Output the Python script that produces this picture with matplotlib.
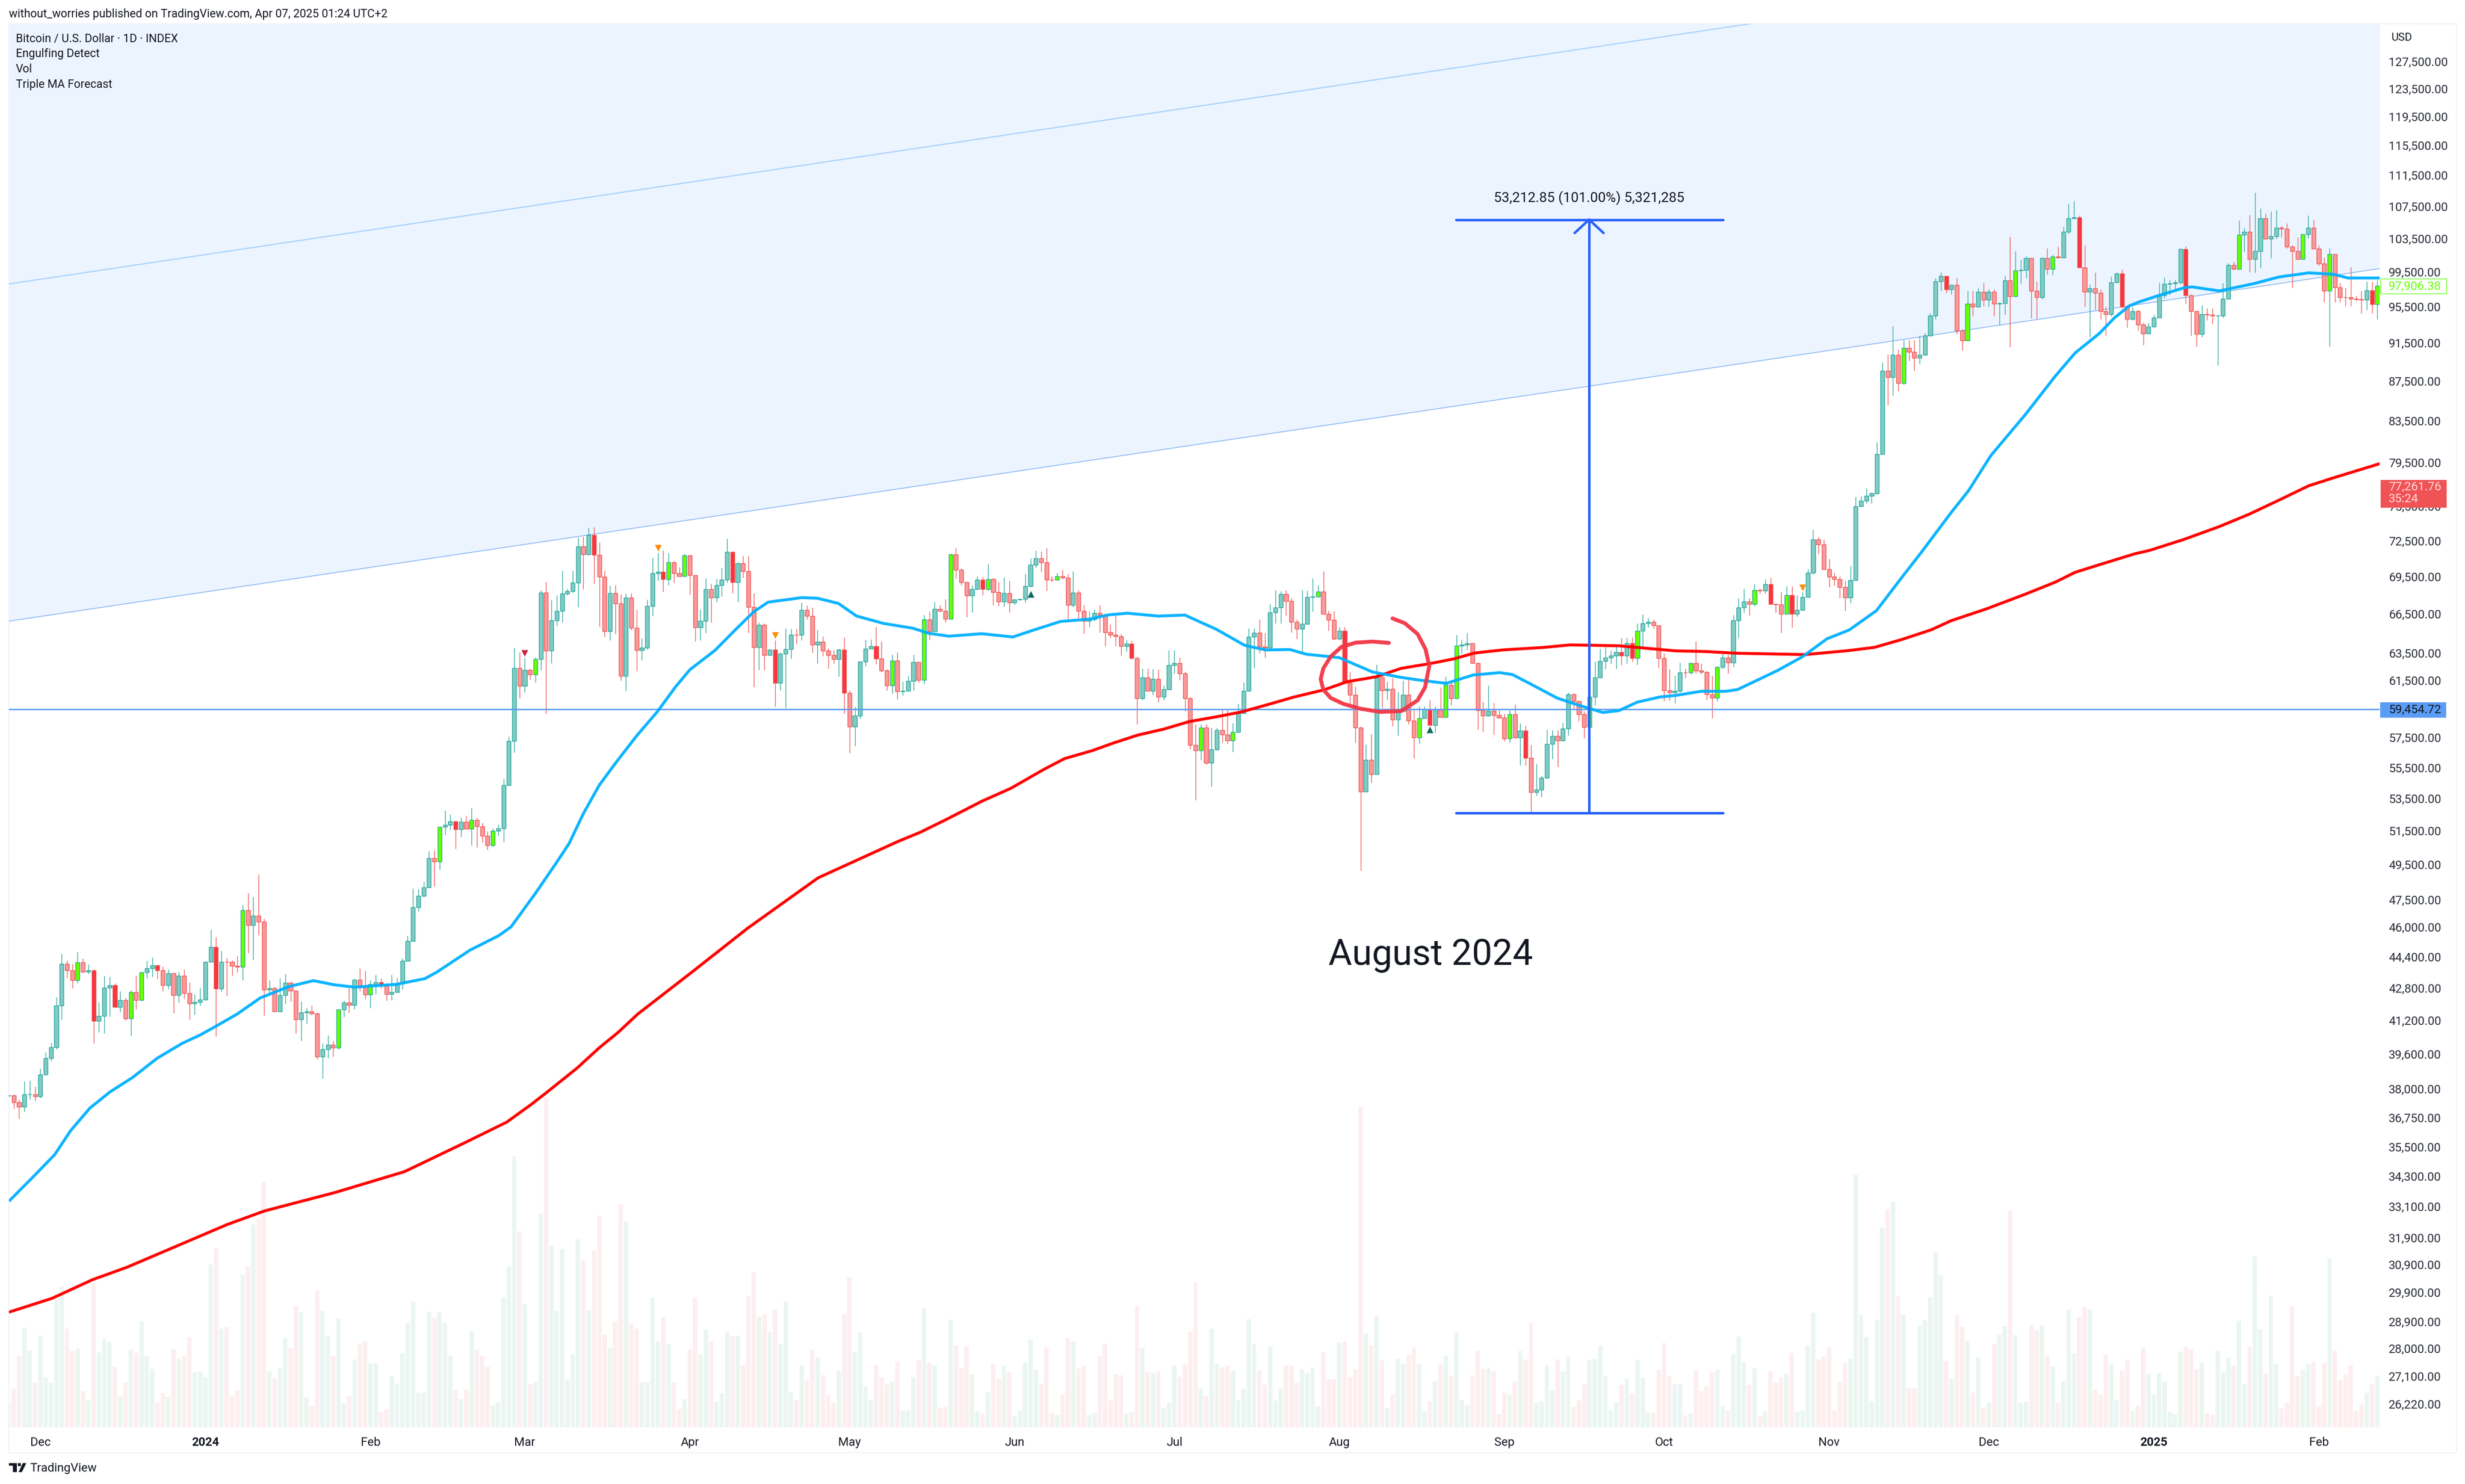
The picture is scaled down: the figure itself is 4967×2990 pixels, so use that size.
import numpy as np
import matplotlib
matplotlib.use("Agg")
import matplotlib.pyplot as plt
from matplotlib.patches import Rectangle, Polygon, Circle

W, H = 4967, 2990
plt.rcParams['font.family'] = ['Roboto', 'DejaVu Sans']

# ---------- daily candles (first entry is the partly hidden candle before the first full one) ----------
first_open = 37690
closes = [37720,
 37410,37220,37760,37770,37670,38660,39410,39930,41930,44030,
 43720,43210,44110,43640,43720,41190,41415,42830,42950,41860,
 42190,41300,42600,42210,43610,43810,43960,43700,42950,43560,
 42460,43430,42540,42040,42100,42220,44140,44920,42780,44140,
 44140,43930,43880,46910,46090,46620,46300,42730,42790,41650,
 42440,43080,42680,41240,41590,41640,41540,39490,39820,40040,
 39890,41740,42070,41960,43230,42870,42470,43000,43100,42920,
 42490,42610,43030,44200,45250,47080,47710,48190,49870,49670,
 51750,51880,52090,51590,52050,51630,52180,51780,51200,50660,
 51510,51660,54370,57250,62400,61100,62260,61930,63080,68200,
 63690,66000,66760,68130,68320,69010,72030,71330,73000,71300,
 69480,65160,68180,67350,61830,67800,65420,63730,63920,67120,
 69780,69900,69280,70680,69790,69540,71240,69600,65450,65950,
 68500,67800,68800,69250,71570,69030,70580,69950,67040,63950,
 65670,63350,63770,61320,63460,63790,64880,64880,66840,66350,
 64130,64350,63690,63350,63050,63770,60590,58250,59000,62870,
 63860,64030,63100,62230,61140,62960,60710,60740,61460,62860,
 61540,66090,65160,66900,66750,66110,71330,70080,69030,67980,
 68500,69230,68480,69300,68240,67500,68180,67430,67650,67670,
 68720,70490,71030,70680,69250,69230,69530,69410,67220,68200,
 66750,65950,66100,66570,66420,65080,64900,64800,64030,64230,
 63130,60220,61730,60750,61590,60310,60850,62630,62770,62020,
 60200,56990,56620,58190,55810,56700,58020,57700,57300,57880,
 59170,60750,64760,65030,64000,63910,66640,67000,68100,67520,
 65900,65350,65720,67860,67880,68300,66500,66050,64600,65190,
 61320,60460,58160,53960,56000,55050,61700,60800,60880,58730,
 59300,60470,58640,57490,58830,59440,58340,59410,58900,61160,
 60220,64050,64130,64270,62780,59370,58990,59360,59020,58860,
 57430,59100,57490,57980,56150,53910,54090,54850,57050,57600,
 57300,58100,60510,60010,59110,58210,60310,61730,62920,63190,
 63330,63570,63330,64260,63130,65200,65790,65880,65640,63150,
 60770,60640,60730,62070,62070,62770,62210,62130,60510,60250,
 62470,63190,62800,66000,67000,67500,67300,68400,68380,68900,
 67300,67250,66500,68000,66500,66830,67850,69820,72600,72200,
 70100,69500,69270,68650,67800,69200,75500,76000,76440,76650,
 80290,88570,87900,90230,87300,91000,90570,89940,90230,92340,
 94500,98380,99010,97500,98000,92880,91800,95860,95540,97200,
 96310,97180,95840,95880,98500,96700,99700,99760,101130,97300,
 96600,101130,99880,101300,101200,104300,106000,106100,100000,97200,
 97600,97100,95000,94700,98300,99300,95500,94100,95000,93550,
 92550,93300,94300,96800,98100,98150,98300,102200,96800,95000,
 92500,94700,94600,94500,94530,96400,100300,99880,103950,104350,
 101000,102000,106000,103500,103800,104800,104700,102500,102000,101000,
 104000,104800,102300,100500,97300,101600,97700,96600,96600,96400,
 96350,96300,97400,95800,97906]

highs = [37770,
 37770,37540,38350,38390,38110,38940,39680,40140,42360,44570,
 44220,44030,44670,44330,44010,43760,42110,43420,43390,43050,
 42650,42320,42690,43420,43600,44200,44390,43990,43910,43760,
 43570,43640,43760,43100,42510,42820,44160,45860,45460,44730,
 44350,44220,44450,47220,47870,47650,48920,46460,43200,42880,
 43300,43540,43120,42680,42120,41820,41940,41600,40100,40490,
 40230,41750,42170,42790,43270,43810,43680,43190,43470,43310,
 43060,43470,43320,44330,45530,48140,48110,48520,50280,50340,
 51770,52770,52520,52110,52340,52430,52930,52310,52000,51480,
 51650,51900,54790,57550,63930,63570,63130,62360,63210,68420,
 69090,67600,68000,69970,68540,69990,72790,72880,73620,73660,
 72350,69990,68780,68820,68090,68130,68150,66880,64650,67650,
 71070,71490,71680,71490,70820,70260,71370,71260,69620,66850,
 69360,68910,69320,70220,72690,71590,70720,71220,71220,68150,
 65840,65760,63800,64480,63560,65400,65350,65370,67400,67170,
 67000,65270,64780,63890,63720,63840,64700,60800,59620,62870,
 64530,64550,65490,64390,62330,63380,63570,61440,61830,63380,
 62870,66450,66720,67440,67220,67700,71410,71900,70170,69090,
 68820,69520,69490,70540,69430,69090,69470,69180,67700,67700,
 69730,71000,71680,71590,71880,69520,69800,70080,69730,69950,
 68420,67220,66720,66870,67230,66530,65680,66400,64960,64500,
 64460,63250,62380,62380,62320,62290,61130,63740,63740,63160,
 62150,60310,58400,58400,58400,58160,58160,59430,59460,58480,
 59830,61370,65400,65400,66070,65040,67290,68420,68320,68420,
 67750,66070,68420,68380,69380,68800,69960,66800,66740,65520,
 65520,62100,61080,58240,57030,57750,62670,61850,61420,61680,
 60680,61510,61540,59470,59640,59640,60110,59640,60990,61770,
 61420,64900,64500,65040,64240,62800,59980,61130,59890,59380,
 59140,59380,59810,58480,58320,57000,55760,54980,58030,58000,
 58000,58530,60650,60610,60060,59300,60730,62890,63860,63950,
 63680,64130,64680,64680,64720,65790,66470,66210,66100,65600,
 63510,62320,61850,62800,62380,62800,64410,62720,62200,61850,
 62550,63680,63410,66430,67770,68510,67770,68900,68510,69290,
 69420,67310,68250,68720,68720,68010,68250,70130,73480,72840,
 72620,70990,69820,69550,69160,70400,76340,76400,77110,76770,
 81400,89470,90320,93370,90820,91840,91840,91840,92340,92590,
 94800,98780,99510,98960,98040,98780,93040,97310,97310,97680,
 98230,97500,97500,96030,99070,103750,101960,100990,101370,101180,
 98410,101260,102330,101560,102500,104950,107820,108180,106350,102680,
 98040,99430,97500,95510,99000,99430,99770,95680,95510,95170,
 93720,93720,94620,98230,98850,98590,98590,102330,102600,96940,
 95000,95680,95340,95340,94620,98230,100560,100720,105750,104800,
 106440,109260,107230,106630,106830,107030,105050,105360,102680,103670,
 103670,106350,105820,102680,101180,102330,101560,98230,97680,100070,
 96740,97310,98410,98410,98590]

lows = [37650,
 37120,36700,37000,37550,37470,37600,38630,39270,39840,41240,
 43320,42810,43060,43570,43520,40100,40620,40570,41400,41840,
 41620,41210,40460,41770,42170,43300,43390,43280,42650,42740,
 41570,42080,42270,41260,41500,41940,42170,44140,40440,42630,
 42400,43420,43600,43190,44620,44250,45560,41450,42560,41630,
 41630,42010,42140,40590,40230,41050,41470,39360,38480,39420,
 39480,39820,41360,41600,41770,42650,42240,41820,42510,42790,
 42180,42200,42600,42740,44200,46850,46850,47650,48250,48260,
 49230,51280,51560,50450,51140,51650,50660,50540,50840,50370,
 50570,51210,50850,54380,56510,60210,60640,61560,61370,62250,
 59150,62770,65570,65840,68000,68190,67050,68490,71290,68910,
 65490,64730,64480,64990,61500,60750,65240,62200,63000,63800,
 66360,69180,68280,68820,69000,69520,69520,68040,64410,64480,
 65060,65840,67440,67900,69000,68150,67460,69430,65060,61020,
 62270,62250,63380,59620,60800,59560,63100,64220,64480,66100,
 63540,62720,63270,62380,62720,61790,59120,56480,56920,58800,
 62540,63860,62700,62130,60800,60580,60160,60420,60720,60800,
 61370,61250,64530,65150,66720,65840,66090,69360,68820,66290,
 66630,68440,68000,68370,67200,67140,67080,66630,67270,67600,
 67400,68640,70220,69890,68370,69090,69180,69270,66010,67050,
 66190,64990,65490,65970,65090,64040,64680,64040,63340,63620,
 63080,58400,60110,60720,60480,59950,60110,60820,62020,61540,
 59300,56740,53400,55990,55720,54280,56630,57160,57080,56530,
 57830,59140,60720,62400,63510,63160,63910,65790,65790,66400,
 65090,64590,63560,65710,66710,67830,66670,65210,64500,64500,
 61330,59810,57160,49150,53960,54520,55050,59550,60110,58280,
 57620,59300,58400,56100,57110,58820,58340,57830,58890,58890,
 59720,60310,63510,63780,62720,58030,57870,58980,57700,58820,
 57270,57160,57430,55640,55640,52550,53710,53610,54790,56070,
 55560,57270,57620,59470,58630,57470,58160,59720,61680,62340,
 62720,62380,62630,62720,62890,62670,64040,65450,65400,62400,
 60030,60060,59860,60650,61680,61950,62020,61950,60110,58820,
 59990,62380,62020,62470,64670,66630,66380,67130,68140,68140,
 67260,66630,65060,66500,65470,66330,66800,67850,69710,71390,
 70130,68640,68770,67770,66750,67380,69240,75500,75780,75780,
 76560,80240,85060,86020,86500,87150,89640,88560,89300,90320,
 92240,94100,97310,97090,96940,92510,90730,91770,94450,95440,
 95580,95510,94450,93460,94620,91110,96740,98200,98780,94210,
 94170,96390,99230,99140,101180,101180,104060,105970,99960,95510,
 92170,95170,94100,92340,94450,98410,95340,93200,94030,92860,
 91330,92510,93200,94280,96490,96850,97360,98100,95860,92340,
 91160,92170,94030,93570,89130,94280,96390,99800,99800,101890,
 99510,99430,99990,103400,101120,103480,103670,102330,97680,100990,
 100990,103550,102250,100260,96030,91140,96030,96030,95610,95580,
 96210,94800,95170,94800,94100]

volumes = [96,
 154,285,398,307,179,368,201,179,511,563,
 396,306,315,144,109,576,299,354,341,243,
 124,181,311,297,424,283,235,100,136,124,
 313,273,285,359,220,224,200,651,716,396,
 400,128,148,611,644,811,835,983,224,196,
 237,357,317,486,460,120,87,545,466,368,
 287,436,97,126,271,335,343,257,257,59,
 71,204,174,297,416,505,138,140,462,438,
 460,418,285,150,114,150,386,309,285,243,
 89,101,521,644,1083,785,495,172,180,854,
 1319,728,466,714,192,293,753,668,468,706,
 847,372,318,424,892,824,416,396,180,178,
 519,343,440,333,180,73,114,311,519,291,
 392,343,103,136,384,366,368,248,527,621,
 442,452,382,470,333,503,140,109,251,188,
 309,279,208,130,97,226,452,601,303,380,
 162,112,251,198,172,182,263,68,69,202,
 267,476,259,249,79,83,430,329,239,323,
 212,63,55,140,255,194,247,222,43,67,
 259,351,230,174,319,59,49,130,357,343,
 237,247,51,57,285,335,110,212,208,53,
 59,484,317,220,218,226,77,100,247,202,
 253,384,579,154,126,396,255,241,247,226,
 110,154,432,331,228,170,323,108,154,247,
 247,178,232,218,241,85,301,192,192,339,
 343,202,233,1283,376,327,446,267,77,132,
 273,257,289,319,257,65,106,184,255,287,
 204,380,112,89,208,305,235,241,224,54,
 138,130,184,305,271,416,100,106,251,148,
 271,224,283,81,108,172,269,273,327,206,
 69,100,170,194,136,269,198,59,59,230,
 337,206,172,172,47,57,226,144,164,220,
 233,85,68,291,364,261,170,237,45,65,
 224,180,198,216,297,63,69,327,458,271,
 283,321,68,180,259,273,1010,450,362,106,
 430,799,873,904,525,450,156,156,406,428,
 521,698,609,265,196,448,400,345,138,279,
 79,97,333,372,404,867,370,100,104,408,
 390,406,285,245,97,184,470,295,440,482,
 472,150,132,291,255,110,226,271,65,85,
 319,216,132,218,184,61,54,303,323,311,
 233,261,57,51,307,220,277,249,426,172,
 321,684,394,216,529,255,75,100,482,204,
 231,255,263,85,257,676,307,190,212,251,
 65,91,138,174,206]

bull_engulf = [12,22,24,43,61,67,80,86,90,98,123,126,165,171,176,183,196,223,229,245,
               264,269,271,281,296,305,315,320,327,333,355,367,376,383,418,430,435,444]
bear_engulf = [15,19,27,38,69,83,109,122,135,143,156,162,182,210,250,266,284,302,304,
               330,334,363,388,396,408,443]

# ---------- moving averages ----------
blue_idx = [-0.9,3.6,7.7,10.7,14.3,18.05,22.3,26.9,31.6,35,38.1,42,46.3,51.7,56.3,60.2,64,71.8,77.2,79.5,
            85.7,91.1,93.4,98,101.9,104.3,107,110,113.1,117,120.9,124.3,127,131.7,135.6,139,141.7,148,151,154.9,
            158.3,163.4,168.9,171.9,175.7,181.8,187.7,191.2,196.6,202.1,205.7,209.2,215,220,225.9,231.2,235.1,239.7,242.8,249,
            255.2,260.6,264.5,269.1,274.1,279.1,281.5,284.5,289.9,293.8,298.5,301.5,305,309.2,312.3,317,321.6,323.8,331.3,336,
            340.6,344.8,349.9,354.6,358.3,363.9,367.2,371.4,377.9,383.5,387.2,391.8,394.6,397.4,399.4,403,407.8,409.2,414.3,420.8,
            425.5,431.1,435.7,438.5,444.5]
blue_val = [33300,34260,35180,36190,37160,37870,38520,39400,40100,40500,40940,41520,42310,42880,43180,42970,42850,42990,43280,43620,
            44760,45530,46000,47860,49600,50740,52570,54370,55820,57610,59280,61030,62280,63710,65300,66680,67440,67800,67750,67340,
            66350,65770,65400,65010,64790,64980,64730,65210,65920,66110,66440,66570,66340,66420,65320,64100,63750,63780,63430,63170,
            62120,61720,61500,61290,61890,62070,61930,61330,60240,59750,59220,59350,59950,60310,60430,60720,60720,60840,62220,63240,
            64590,65270,66770,69400,71500,74930,76910,80160,84140,88020,90440,92570,94270,95610,96090,96800,97690,97770,97310,98150,
            98920,99400,99240,98800,98800]
red_idx = [-0.9,7.2,14.8,21.3,32.9,40,47.1,60.3,73.4,84.5,92.6,97.2,100.2,105.8,110,113.5,117.2,127.5,137.9,151.1,
           166,170.3,175,181.9,187.3,193.5,197.4,202.6,206.5,211.1,216.1,220.8,225.9,230.5,235.9,240.5,246.1,250.5,255.9,260.6,
           266,270.5,274.4,279.7,287.4,292.4,301.5,306,312.2,317.7,323.8,336.5,344.4,349.5,354.6,360.2,363.9,370.5,378,383.5,
           387.2,391.9,398.4,401.2,407.7,414.3,419.9,425.5,431.1,435.7,444.5]
red_val = [29220,29700,30360,30810,31780,32390,32920,33640,34480,35650,36550,37320,37870,38950,39900,40620,41510,43640,45940,48740,
           50860,51430,52180,53350,54160,55380,56090,56620,57120,57660,58080,58590,58920,59250,59810,60310,60820,61410,61760,62380,
           62730,63080,63520,63750,63940,64130,64060,63900,63680,63630,63500,63400,63690,63940,64530,65280,65980,66900,68100,69050,
           69850,70500,71390,71680,72620,73720,74800,76050,77350,78070,79400]

# ---------- channel, level, measure, drawing ----------
view_idx = [-0.904, 444.42]
view_price = [25510, 133290]
channel_upper_idx = [-0.9, 326.1]
channel_upper_val = [98110, 133290]
channel_lower_val = [65950, 99900]
level_price = 59454.72
measure_idx = [270.93, 295.92, 321.1]
measure_price = [52620, 105833]
arrow_idx = [293.2, 295.92, 298.64]
arrow_price = [104176, 105833, 104176]
circle_idx = [258.3,255.2,252.1,249.4,247.4,246,245.5,246,247.4,249.8,252.9,256.7,260.6,263.7,265.1,265.9,265.2,263.7,261.3,259]
circle_val = [64280,64380,64300,63980,63260,62380,61600,60830,60240,59820,59490,59260,59320,60070,61000,62560,63800,64960,65790,66160]

marker_down_orange = ([121, 143, 336], [71900, 64860, 68620])
marker_down_red = ([96], [63500])
marker_up_teal = ([191, 266], [68090, 58030])

price_ticks = [127500,123500,119500,115500,111500,107500,103500,99500,95500,91500,87500,83500,79500,75500,72500,69500,
               66500,63500,61500,57500,55500,53500,51500,49500,47500,46000,44400,42800,41200,39600,38000,36750,35500,
               34300,33100,31900,30900,29900,28900,28000,27100,26220]
month_pos = [5,36,67,96,127,157,188,218,249,280,310,341,371,402,433]
month_lab = ['Dec','2024','Feb','Mar','Apr','May','Jun','Jul','Aug','Sep','Oct','Nov','Dec','2025','Feb']

# ---------- derived ----------
closes = np.array(closes, float); highs = np.array(highs, float); lows = np.array(lows, float)
volumes = np.array(volumes, float)
opens = np.r_[first_open, closes[:-1]]
x = np.arange(-1, 445)
up = closes > opens

INK = '#131722'
UP_E, DN_E = '#26a69a', '#ef5350'
face = np.where(up, '#80cbc4', '#f9999b').astype(object)
for i in bull_engulf: face[i + 1] = '#66ff00'
for i in bear_engulf: face[i + 1] = '#f7363f'
edge = np.where(up, UP_E, DN_E)

fig = plt.figure(figsize=(W/100, H/100), dpi=100, facecolor='white')
L, T, R, B = 18, 48, 4795, 2876
rect = [L/W, 1-B/H, (R-L)/W, (B-T)/H]

# volume pane (1 unit = 0.5 px approx)
axv = fig.add_axes(rect, zorder=1, facecolor='white')
axv.bar(x, volumes, width=0.82, color=np.where(up, '#ebf6f3', '#fdeeef'), linewidth=0)
axv.set_xlim(view_idx); axv.set_ylim(0, (B-T)*1.985)
axv.axis('off')

ax = fig.add_axes(rect, zorder=2, facecolor='none')
ax.set_yscale('log')
ax.set_xlim(view_idx); ax.set_ylim(view_price)
for s in ax.spines.values(): s.set_visible(False)

# channel
ax.fill_between(view_idx, channel_lower_val, view_price[1], color='#ecf4ff', lw=0, zorder=1)
ax.plot(channel_upper_idx, channel_upper_val, color='#a9d2fa', lw=1.7, zorder=1.5)
ax.plot(view_idx, channel_lower_val, color='#7fb0f2', lw=1.1, zorder=1.5)

# candles
ax.vlines(x, lows, highs, colors=edge, lw=1.0, zorder=2)
ax.bar(x, np.maximum(np.abs(closes-opens), 1), bottom=np.minimum(opens, closes), width=0.76,
       color=list(face), edgecolor=edge, linewidth=1.0, zorder=3)

# level, MAs
ax.axhline(level_price, color='#5b9cf6', lw=2, zorder=3.5)
ax.plot(red_idx, red_val, color='#ff0000', lw=4.2, zorder=4, solid_capstyle='butt', solid_joinstyle='round')
ax.plot(blue_idx, blue_val, color='#00b0ff', lw=4.2, alpha=.95, zorder=4.1, solid_capstyle='butt', solid_joinstyle='round')

# markers
ax.scatter(*marker_down_orange, marker='v', s=95, color='#ff8c00', zorder=5, linewidths=0)
ax.scatter(*marker_down_red, marker='v', s=95, color='#c2263e', zorder=5, linewidths=0)
ax.scatter(*marker_up_teal, marker='^', s=95, color='#0b6b5d', zorder=5, linewidths=0)

# measure tool
MC = '#2962ff'
ax.plot([measure_idx[0], measure_idx[2]], [measure_price[0]]*2, color=MC, lw=3.6, zorder=6, solid_capstyle='round')
ax.plot([measure_idx[0], measure_idx[2]], [measure_price[1]]*2, color=MC, lw=3.6, zorder=6, solid_capstyle='round')
ax.plot([measure_idx[1]]*2, measure_price, color=MC, lw=3.6, zorder=6)
ax.plot(arrow_idx, arrow_price, color=MC, lw=3.6, zorder=6, solid_capstyle='round', solid_joinstyle='miter')

# hand-drawn circle
ax.plot(circle_idx, circle_val, color='#f23645', lw=5.6, alpha=.95, zorder=7, solid_capstyle='round', solid_joinstyle='round')

# axes
ax.yaxis.tick_right()
ax.set_yticks(price_ticks)
ax.set_yticklabels([f'{v:,.2f}' for v in price_ticks], fontsize=17.4, color='#2a2e39')
ax.minorticks_off()
ax.tick_params(axis='y', length=0, pad=13)
ax.set_xticks(month_pos)
ax.set_xticklabels(month_lab, fontsize=17.4, color=INK)
ax.tick_params(axis='x', length=0, pad=14)
for lab in ax.get_xticklabels():
    if lab.get_text() in ('2024', '2025'):
        lab.set_fontweight('bold')

# frame
def ftext(px, py, s, **kw):
    kw.setdefault('color', INK); kw.setdefault('va', 'center'); kw.setdefault('zorder', 12)
    return fig.text(px/W, 1-py/H, s, **kw)
def frect(x0, y0, x1, y1, **kw):
    kw.setdefault('zorder', 10)
    fig.add_artist(Rectangle((x0/W, 1-y1/H), (x1-x0)/W, (y1-y0)/H, transform=fig.transFigure, **kw))

frect(18, 48, 4950, 2927, fill=False, edgecolor='#f0f3fa', linewidth=1.6, zorder=0.5)

# texts
ftext(18, 29, 'without_worries published on TradingView.com, Apr 07, 2025 01:24 UTC+2', fontsize=16.6)
for py, s in zip([78, 109, 140, 171], ['Bitcoin / U.S. Dollar · 1D · INDEX', 'Engulfing Detect', 'Vol', 'Triple MA Forecast']):
    ftext(32, py, s, fontsize=16.6)
ftext(4818, 77, 'USD', fontsize=16)
ftext(2883, 1926, 'August 2024', fontsize=52.4, ha='center')
ftext(3202, 399, '53,212.85 (101.00%) 5,321,285', fontsize=20.2, ha='center')

# price labels
frect(4796, 1415, 4929, 1446, facecolor='#5b9cf6', edgecolor='none')
ftext(4813, 1430, '59,454.72', fontsize=17.4)
frect(4797, 562, 4930, 592, facecolor='white', edgecolor='#7dff3a', linewidth=1.2)
ftext(4813, 577, '97,906.38', fontsize=17.4, color='#66ff00')
frect(4797, 967, 4930, 1023, facecolor='#f05356', edgecolor='none')
ftext(4813, 981, '77,261.76', fontsize=17.4, color='#ffdcdc')
ftext(4813, 1006, '35:24', fontsize=17.4, color='#ffdcdc')

# TradingView footer
for pts in ([(18,2948),(34,2948),(34,2966),(26,2966),(26,2953),(18,2953)],
            [(46,2948),(53,2948),(44,2966),(37.5,2966)]):
    fig.add_artist(Polygon([(a/W, 1-b/H) for a, b in pts], closed=True, transform=fig.transFigure, facecolor=INK, edgecolor='none'))
fig.add_artist(Rectangle((36/W, 1-2954/H), 6/W, 6/H, transform=fig.transFigure, facecolor=INK, edgecolor='none'))
ftext(60, 2959, 'TradingView', fontsize=17.5)

fig.savefig('out.png', dpi=100, facecolor='white')
